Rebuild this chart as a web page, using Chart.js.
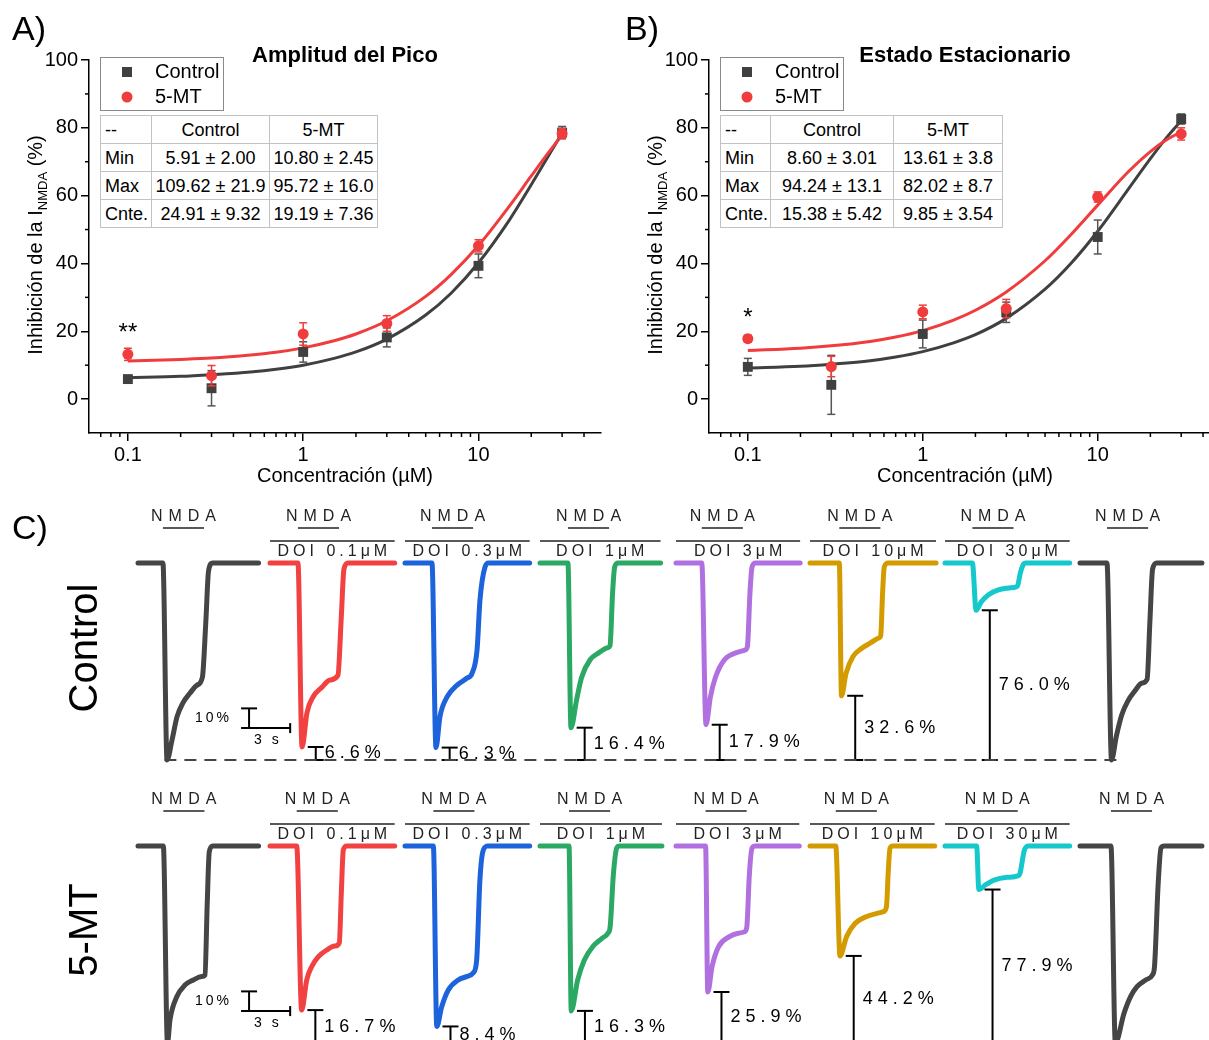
<!DOCTYPE html>
<html>
<head>
<meta charset="utf-8">
<script src="https://cdn.jsdelivr.net/npm/chart.js@4.4.0/dist/chart.umd.min.js"></script>
<style>
  body { margin:0; width:1209px; height:1040px; overflow:hidden; background:#fff; position:relative;
         font-family:'Liberation Sans', Arial, sans-serif; }
  canvas { position:absolute; }
  table.tb { position:absolute; border-collapse:collapse; table-layout:fixed; background:#fff;
             font-size:18px; color:#000; border:1.5px solid #555; }
  table.tb td { border:1px solid #c2c2c2; height:27px; padding:0; text-align:center; white-space:nowrap; line-height:1; }
  table.tb td:first-child { text-align:left; padding-left:4px; }
</style>
</head>
<body>
<canvas id="cA" width="620" height="490" style="left:0;top:0"></canvas>
<canvas id="cB" width="620" height="490" style="left:620px;top:0"></canvas>
<canvas id="cC1" width="1209" height="295" style="left:0;top:490px"></canvas>
<canvas id="cC2" width="1209" height="255" style="left:0;top:785px"></canvas>
<table class="tb" id="tA" style="left:100px;top:115px;width:278px"></table>
<table class="tb" id="tB" style="left:720px;top:115px;width:283px"></table>
<script>
// ---- datos de las curvas dosis-respuesta ----
const conc = [0.1, 0.3, 1, 3, 10, 30];
// A) amplitud del pico
const picoCtrl = [5.9, 3.2, 13.9, 18.2, 39.3, 78.6];
const picoCtrlErr = [0.8, 5.2, 3.0, 2.8, 3.5, 1.8];
const pico5mt = [13.2, 6.9, 19.2, 22.3, 45.2, 78.3];
const pico5mtErr = [1.8, 3.0, 3.3, 2.3, 1.8, 1.5];
// B) estado estacionario
const estCtrl = [9.5, 4.2, 19.2, 25.6, 47.8, 82.6];
const estCtrlErr = [2.5, 8.7, 4.1, 3.0, 5.0, 1.5];
const est5mt = [17.8, 9.6, 25.7, 26.7, 59.6, 78.2];
const est5mtErr = [1.0, 3.0, 2.0, 2.7, 1.5, 1.8];
// curvas de ajuste
const fitConc = [0.1, 0.2, 0.3, 0.5, 0.7, 1, 1.5, 2, 3, 5, 7, 10, 15, 20, 25, 30];
const fitPicoCtrl = [6.3, 6.7, 7.2, 8.0, 8.8, 10.0, 12.0, 13.9, 17.7, 24.8, 31.3, 40.2, 52.8, 63.2, 71.6, 78.5];
const fitPico5mt = [11.2, 11.7, 12.1, 13.0, 13.8, 15.1, 17.2, 19.2, 23.1, 30.3, 36.8, 45.3, 56.9, 65.8, 72.6, 77.9];
const fitEstCtrl = [9.2, 9.7, 10.3, 11.3, 12.4, 14.0, 16.6, 19.0, 23.8, 32.4, 39.9, 49.5, 62.0, 70.9, 77.4, 82.1];
const fitEst5mt = [14.3, 15.0, 15.7, 17.0, 18.3, 20.2, 23.3, 26.2, 31.6, 40.8, 48.4, 57.2, 67.1, 73.0, 76.6, 78.8];
const yTicks = [0, 20, 40, 60, 80, 100];
const xTicks = [0.1, 1, 10];
// tablas de parametros
const tablaHead = ['--', 'Control', '5-MT'];
const tablaRows = ['Min', 'Max', 'Cnte.'];
const tablaPico = [['5.91 ± 2.00', '10.80 ± 2.45'], ['109.62 ± 21.9', '95.72 ± 16.0'], ['24.91 ± 9.32', '19.19 ± 7.36']];
const tablaEst = [['8.60 ± 3.01', '13.61 ± 3.8'], ['94.24 ± 13.1', '82.02 ± 8.7'], ['15.38 ± 5.42', '9.85 ± 3.54']];

// ---- registros (t en s, corriente en % del pico control) ----
const doiConc = ['0.1', '0.3', '1', '3', '10', '30'];
const difControl = [6.6, 6.3, 16.4, 17.9, 32.6, 76.0];
const dif5mt = [16.7, 8.4, 16.3, 25.9, 44.2, 77.9];
const trazasControl = [
  [[0,0],[1.82,0],[2.12,-100],[2.48,-90],[2.85,-78],[3.28,-71],[3.8,-66],[4.31,-62],[4.7,-58],[4.95,-30],[5.15,-4],[5.45,0],[8.8,0]],
  [[0,0],[2.04,0],[2.34,-93.4],[2.7,-76],[3.14,-68],[3.8,-63],[4.38,-59.4],[4.96,-57],[5.2,-28],[5.4,-3],[5.7,0],[9.1,0]],
  [[0,0],[1.97,0],[2.26,-93.7],[2.55,-78],[3.07,-68],[3.8,-62],[4.53,-58.4],[4.89,-56],[5.26,-44],[5.47,-19],[5.84,-2],[6.1,0],[9.1,0]],
  [[0,0],[2.04,0],[2.26,-83.6],[2.67,-69.5],[3.04,-58],[3.67,-49],[4.31,-45.5],[4.93,-43],[5.11,-42],[5.3,-15],[5.45,-2],[5.7,0],[8.8,0]],
  [[0,0],[1.88,0],[2.19,-82.1],[2.51,-68],[2.88,-58],[3.52,-49.2],[4.15,-46.2],[5.03,-44.2],[5.21,-42.5],[5.4,-15],[5.55,-2],[5.8,0],[9.06,0]],
  [[0,0],[2.14,0],[2.3,-67.4],[2.63,-56],[3.14,-47.5],[3.78,-43.3],[4.41,-40.6],[5.04,-38],[5.16,-37],[5.3,-15],[5.42,-2],[5.7,0],[9.2,0]],
  [[0,0],[2.0,0],[2.27,-24],[2.64,-19.8],[3.15,-16.2],[3.9,-13.7],[4.63,-12.7],[5.15,-12.2],[5.3,-11.5],[5.5,-5],[5.7,-1],[5.9,0],[9.1,0]],
  [[0,0],[1.97,0],[2.3,-100],[2.65,-88],[3.05,-77],[3.5,-70],[4.0,-65],[4.5,-61],[4.9,-59],[5.1,-30],[5.3,-3],[5.6,0],[8.9,0]]
];
const trazas5mt = [
  [[0,0],[1.85,0],[2.15,-100],[2.34,-88],[2.83,-76.5],[3.43,-70.6],[4.04,-68],[4.65,-66.3],[4.89,-65.5],[5.05,-30],[5.2,-3],[5.45,0],[8.8,0]],
  [[0,0],[1.95,0],[2.31,-83.3],[2.68,-68],[3.04,-61.3],[3.53,-56.2],[4.14,-52.8],[4.74,-50.8],[5.06,-49.2],[5.2,-25],[5.35,-2],[5.6,0],[9.1,0]],
  [[0,0],[2.07,0],[2.32,-91.6],[2.68,-81.6],[3.16,-73.1],[3.89,-68],[4.5,-66.3],[4.99,-64.3],[5.23,-58],[5.47,-17],[5.72,-2],[6.06,0],[9.1,0]],
  [[0,0],[2.12,0],[2.28,-83.7],[2.75,-68],[3.23,-58],[3.86,-51],[4.5,-47],[4.96,-44.3],[5.12,-41],[5.35,-15],[5.6,-1],[5.8,0],[8.9,0]],
  [[0,0],[2.16,0],[2.32,-74.1],[2.63,-61.3],[3.11,-51.1],[3.9,-46],[4.54,-44.3],[5.01,-43.5],[5.17,-41],[5.35,-15],[5.55,-1],[5.8,0],[9.0,0]],
  [[0,0],[1.88,0],[2.19,-55.8],[2.67,-46],[3.3,-39.2],[4.09,-35.9],[4.89,-34.2],[5.36,-33.3],[5.58,-30.8],[5.72,-12],[5.84,-1],[6.05,0],[9.1,0]],
  [[0,0],[2.31,0],[2.47,-22.1],[2.94,-19.8],[3.58,-17.3],[4.53,-15.9],[5.31,-15.2],[5.47,-13.9],[5.8,-2],[6.1,0],[9.1,0]],
  [[0,0],[2.26,0],[2.58,-100],[3.21,-85],[3.69,-76.5],[4.16,-71.4],[4.8,-68],[5.28,-65.5],[5.44,-61],[5.7,-20],[5.91,-1],[6.15,0],[8.9,0]]
];

// ---- estilo ----
const FONT = "'Liberation Sans', Arial, sans-serif";
const GRIS = '#404040', ROJO = '#f03c3c';
const coloresTraza = ['#454545', '#f24141', '#1d63dc', '#2ca865', '#b070e0', '#d39b00', '#14c8cc', '#454545'];
const panelLeft = [138, 270, 405, 540, 676, 810, 945, 1080]; // px
const PX_S = 13.7, PX_PC = 1.97, NMDA_S = 3;
Chart.defaults.font.family = FONT;

function txt(ctx, s, x, y, o) {
  ctx.save();
  ctx.font = (o.weight || '') + ' ' + o.size + 'px ' + FONT;
  ctx.fillStyle = o.color || '#000';
  ctx.textAlign = o.align || 'left';
  ctx.textBaseline = o.base || 'middle';
  if ('letterSpacing' in ctx) ctx.letterSpacing = (o.ls || 0) + 'px';
  ctx.fillText(s, x, y);
  ctx.restore();
}
function seg(ctx, x1, y1, x2, y2) { ctx.beginPath(); ctx.moveTo(x1, y1); ctx.lineTo(x2, y2); ctx.stroke(); }

function tabla(id, vals) {
  let h = '<colgroup><col style="width:' + (id === 'tA' ? 51 : 50) + 'px"><col style="width:' + (id === 'tA' ? 118 : 123) + 'px"><col></colgroup>';
  h += '<tr>' + tablaHead.map(t => '<td>' + t + '</td>').join('') + '</tr>';
  tablaRows.forEach((r, i) => { h += '<tr><td>' + r + '</td><td>' + vals[i][0] + '</td><td>' + vals[i][1] + '</td></tr>'; });
  document.getElementById(id).innerHTML = h;
}
tabla('tA', tablaPico);
tabla('tB', tablaEst);

function doseDeco(p) {
  return {
    id: 'deco' + p.letra,
    beforeDatasetDraw(chart, args) {
      const ds = chart.data.datasets[args.index];
      if (!ds.errs) return;
      const sx = chart.scales.x, sy = chart.scales.y, ctx = chart.ctx;
      ctx.save(); ctx.strokeStyle = ds.errColor; ctx.lineWidth = 1.5;
      ds.data.forEach((d, i) => {
        const px = sx.getPixelForValue(d.x);
        const y1 = sy.getPixelForValue(d.y + ds.errs[i]), y2 = sy.getPixelForValue(d.y - ds.errs[i]);
        seg(ctx, px, y1, px, y2); seg(ctx, px - 4, y1, px + 4, y1); seg(ctx, px - 4, y2, px + 4, y2);
      });
      ctx.restore();
    },
    afterDraw(chart) {
      const ctx = chart.ctx, a = chart.chartArea, sx = chart.scales.x, sy = chart.scales.y;
      ctx.save(); ctx.strokeStyle = '#000'; ctx.lineWidth = 1.5;
      // ticks menores
      for (let k = -2; k <= 1; k++) for (let m = 2; m <= 9; m++) {
        const v = m * Math.pow(10, k);
        if (v > sx.min * 1.01 && v < sx.max * 0.99) { const px = sx.getPixelForValue(v); seg(ctx, px, a.bottom, px, a.bottom + 4); }
      }
      [10, 30, 50, 70, 90].forEach(v => { const py = sy.getPixelForValue(v); seg(ctx, a.left - 4, py, a.left, py); });
      ctx.restore();
      const cx = a.left + 256;
      txt(ctx, p.titulo, cx, 56, { size: 22, weight: 'bold', align: 'center' });
      txt(ctx, 'Concentración (µM)', cx, 476, { size: 20, align: 'center' });
      txt(ctx, p.letra + ')', p.letraX, 31, { size: 34 });
      // titulo eje y con subindice
      const parts = [['Inhibición de la I', 20, 0], ['NMDA', 13, 7], [' (%)', 20, 0]];
      ctx.save(); ctx.translate(a.left - 53, 245); ctx.rotate(-Math.PI / 2);
      let w = 0; parts.forEach(q => { ctx.font = q[1] + 'px ' + FONT; w += ctx.measureText(q[0]).width; });
      let xx = -w / 2; ctx.textBaseline = 'middle'; ctx.fillStyle = '#000';
      parts.forEach(q => { ctx.font = q[1] + 'px ' + FONT; ctx.fillText(q[0], xx, q[2]); xx += ctx.measureText(q[0]).width; });
      ctx.restore();
      // leyenda
      const lx = a.left + 11;
      ctx.save(); ctx.strokeStyle = '#8a8a8a'; ctx.lineWidth = 1; ctx.strokeRect(lx + 0.5, 57.5, 123, 53);
      ctx.fillStyle = GRIS; ctx.fillRect(lx + 22, 67, 10, 10);
      ctx.fillStyle = ROJO; ctx.beginPath(); ctx.arc(lx + 27, 97, 5.5, 0, Math.PI * 2); ctx.fill();
      ctx.restore();
      txt(ctx, 'Control', lx + 55, 72, { size: 20 });
      txt(ctx, '5-MT', lx + 55, 97, { size: 20 });
      // significancia
      const ds = chart.data.datasets[0];
      txt(ctx, p.sig, sx.getPixelForValue(conc[0]), sy.getPixelForValue(ds.data[0].y) - 14, { size: 24, align: 'center', base: 'alphabetic' });
    }
  };
}

function doseChart(id, p) {
  return new Chart(document.getElementById(id), {
    type: 'scatter',
    data: {
      datasets: [
        { data: conc.map((c, i) => ({ x: c, y: p.mt[i] })), errs: p.mtErr, errColor: ROJO,
          pointStyle: 'circle', pointRadius: 5.5, backgroundColor: ROJO, borderWidth: 0 },
        { data: conc.map((c, i) => ({ x: c, y: p.ctrl[i] })), errs: p.ctrlErr, errColor: '#555',
          pointStyle: 'rect', pointRadius: 7, backgroundColor: GRIS, borderWidth: 0 },
        { type: 'line', data: fitConc.map((c, i) => ({ x: c, y: p.fitMt[i] })), borderColor: ROJO, borderWidth: 3,
          pointRadius: 0, cubicInterpolationMode: 'monotone' },
        { type: 'line', data: fitConc.map((c, i) => ({ x: c, y: p.fitCtrl[i] })), borderColor: GRIS, borderWidth: 3,
          pointRadius: 0, cubicInterpolationMode: 'monotone' }
      ]
    },
    options: {
      responsive: false, animation: false, events: [],
      layout: { autoPadding: false, padding: { top: 60, right: p.padR, left: 0, bottom: 0 } },
      plugins: { legend: { display: false }, tooltip: { enabled: false } },
      scales: {
        x: {
          type: 'logarithmic', min: 0.06, max: 50,
          afterBuildTicks: s => { s.ticks = xTicks.map(v => ({ value: v })); },
          afterFit: s => { s.height = 57; },
          ticks: { font: { size: 20 }, color: '#000', padding: 2, maxRotation: 0, callback: v => String(v) },
          grid: { drawOnChartArea: false, drawTicks: true, tickLength: 8, color: '#000', lineWidth: 1.5 },
          border: { display: true, color: '#000', width: 1.5 }
        },
        y: {
          min: -10, max: 100,
          afterBuildTicks: s => { s.ticks = yTicks.map(v => ({ value: v })); },
          afterFit: s => { s.width = 89; },
          ticks: { font: { size: 20 }, color: '#000', padding: 3 },
          grid: { drawOnChartArea: false, drawTicks: true, tickLength: 8, color: '#000', lineWidth: 1.5 },
          border: { display: true, color: '#000', width: 1.5 }
        }
      }
    },
    plugins: [doseDeco(p)]
  });
}

doseChart('cA', { letra: 'A', letraX: 12, titulo: 'Amplitud del Pico', sig: '**', padR: 19,
  ctrl: picoCtrl, ctrlErr: picoCtrlErr, mt: pico5mt, mtErr: pico5mtErr, fitCtrl: fitPicoCtrl, fitMt: fitPico5mt });
doseChart('cB', { letra: 'B', letraX: 5, titulo: 'Estado Estacionario', sig: '*', padR: 20,
  ctrl: estCtrl, ctrlErr: estCtrlErr, mt: est5mt, mtErr: est5mtErr, fitCtrl: fitEstCtrl, fitMt: fitEst5mt });

// ---- panel C ----
function traceDeco(row) {
  return {
    id: 'trazas' + row.key,
    afterDatasetsDraw(chart) {
      const sx = chart.scales.x, sy = chart.scales.y, ctx = chart.ctx;
      const base = sy.getPixelForValue(0);
      ctx.save(); ctx.strokeStyle = '#222'; ctx.lineWidth = 1.5;
      row.traces.forEach((tr, i) => {
        const t0 = panelLeft[i] / PX_S;
        const xOn = sx.getPixelForValue(t0 + tr[1][0]), xOff = sx.getPixelForValue(t0 + tr[1][0] + NMDA_S);
        txt(ctx, 'NMDA', (xOn + xOff) / 2 + 3, base - 46, { size: 16, align: 'center', ls: 6, color: '#222' });
        seg(ctx, xOn, base - 35, xOff, base - 35);
        if (i === 0 || i === 7) return;
        const xs = sx.getPixelForValue(t0), xe = sx.getPixelForValue(t0 + tr[tr.length - 1][0]);
        seg(ctx, xs, base - 22, xe, base - 22);
        txt(ctx, 'DOI ' + doiConc[i - 1] + 'μM', (xs + xe) / 2 + 2, base - 11, { size: 16, align: 'center', ls: 4, color: '#222' });
        const pk = tr.reduce((m, q) => (q[1] < m[1] ? q : m));
        const d = row.diffs[i - 1];
        const bx = sx.getPixelForValue(t0 + pk[0] + 1.0);
        const yT = sy.getPixelForValue(-100 + d), yB = sy.getPixelForValue(-100);
        ctx.save(); ctx.strokeStyle = '#000'; ctx.lineWidth = 2;
        seg(ctx, bx, yT, bx, yB); seg(ctx, bx - 8, yT, bx + 8, yT); seg(ctx, bx - 8, yB, bx + 8, yB);
        ctx.restore();
        txt(ctx, d.toFixed(1) + '%', bx + 9, (yT + yB) / 2, { size: 18, ls: 5 });
      });
      // escala
      const ex = sx.getPixelForValue(18.18), ey0 = sy.getPixelForValue(-83.8), ey1 = sy.getPixelForValue(-73.8);
      const ex1 = sx.getPixelForValue(18.18 + 3);
      ctx.strokeStyle = '#000'; ctx.lineWidth = 2;
      seg(ctx, ex, ey0, ex, ey1); seg(ctx, ex - 8, ey1, ex + 8, ey1); seg(ctx, ex - 8, ey0, ex1, ey0);
      seg(ctx, ex1, ey0 - 5, ex1, ey0 + 5);
      txt(ctx, '10%', ex - 17, (ey0 + ey1) / 2, { size: 14, align: 'right', ls: 3 });
      txt(ctx, '3 s', ex + 5, ey0 + 12, { size: 14, ls: 3 });
      if (row.dashed) {
        ctx.strokeStyle = '#444'; ctx.lineWidth = 2; ctx.setLineDash([12, 8]);
        const yd = sy.getPixelForValue(-100);
        seg(ctx, sx.getPixelForValue(12.0), yd, sx.getPixelForValue(81.6), yd);
        ctx.setLineDash([]);
      }
      ctx.restore();
      ctx.save(); ctx.translate(86, base + row.labelDy); ctx.rotate(-Math.PI / 2);
      txt(ctx, row.label, 0, 0, { size: 40, align: 'center' });
      ctx.restore();
      if (row.letra) txt(ctx, row.letra, 12, base - 33, { size: 34 });
    }
  };
}

function traceChart(id, row, topPx, height) {
  return new Chart(document.getElementById(id), {
    type: 'line',
    data: {
      datasets: row.traces.map((tr, i) => ({
        data: tr.map(q => ({ x: panelLeft[i] / PX_S + q[0], y: q[1] })),
        borderColor: coloresTraza[i], borderWidth: 5, pointRadius: 0,
        cubicInterpolationMode: 'monotone', borderJoinStyle: 'round', borderCapStyle: 'round', fill: false
      }))
    },
    options: {
      responsive: false, animation: false, events: [],
      layout: { autoPadding: false, padding: 0 },
      plugins: { legend: { display: false }, tooltip: { enabled: false } },
      scales: {
        x: { type: 'linear', display: false, min: 0, max: 1209 / PX_S },
        y: { display: false, min: -(height - topPx) / PX_PC, max: topPx / PX_PC }
      }
    },
    plugins: [traceDeco(row)]
  });
}

traceChart('cC1', { key: 'ctrl', traces: trazasControl, diffs: difControl, dashed: true, label: 'Control', labelDy: 85, letra: 'C)' }, 73, 295);
traceChart('cC2', { key: 'mt', traces: trazas5mt, diffs: dif5mt, dashed: false, label: '5-MT', labelDy: 84 }, 61, 255);
</script>
</body>
</html>
